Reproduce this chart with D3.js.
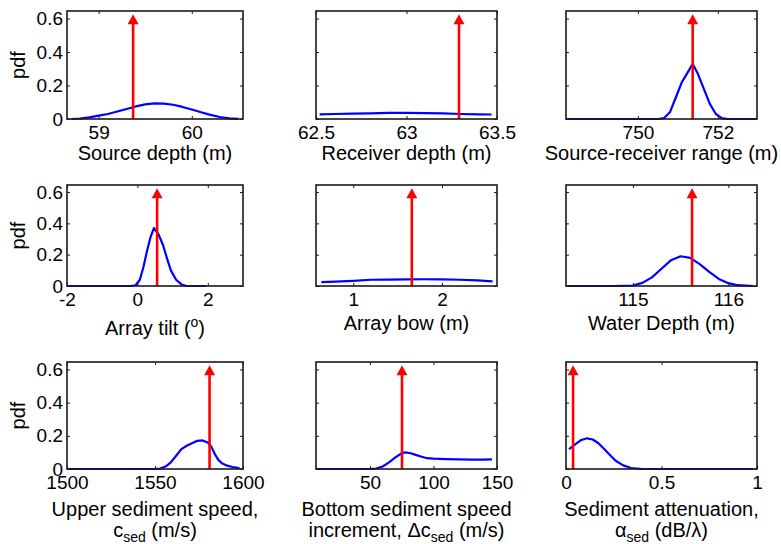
<!DOCTYPE html>
<html>
<head>
<meta charset="utf-8">
<script src="https://cdn.jsdelivr.net/npm/d3@7"></script>
<style>
body { margin: 0; background: #fff; }
svg text { font-family: "Liberation Sans", Arial, Helvetica, sans-serif; font-size: 20px; fill: #000; }
.tick text { font-size: 19px; }
.box { fill: none; stroke: #1a1a1a; stroke-width: 1.6; }
.tick line { stroke: #1a1a1a; stroke-width: 1; }
.pdf-line { fill: none; stroke: #0000ff; stroke-width: 2.2; stroke-linejoin: round; }
.truth { stroke: #ff0000; stroke-width: 2.6; }
.truth-head { fill: #ff0000; }
</style>
</head>
<body>
<svg id="fig" width="781" height="544"></svg>
<script>
// ---- data ----
var pdfTicks = [0, 0.2, 0.4, 0.6];

var srcDepthDomain = [58.66, 60.55], srcDepthTicks = [59, 60], srcDepthTrue = 59.37;
var srcDepthX   = [58.71, 58.8, 58.9, 59.0, 59.1, 59.2, 59.3, 59.4, 59.5, 59.6, 59.7, 59.8, 59.9, 60.0, 60.1, 60.2, 60.3, 60.4, 60.5];
var srcDepthPdf = [0, 0.003, 0.01, 0.02, 0.03, 0.045, 0.06, 0.075, 0.087, 0.093, 0.092, 0.085, 0.072, 0.057, 0.04, 0.025, 0.012, 0.004, 0.001];

var rcvDepthDomain = [62.5, 63.5], rcvDepthTicks = [62.5, 63, 63.5], rcvDepthTrue = 63.29;
var rcvDepthX   = [62.52, 62.6, 62.7, 62.8, 62.9, 63.0, 63.1, 63.2, 63.3, 63.4, 63.47];
var rcvDepthPdf = [0.028, 0.03, 0.032, 0.034, 0.036, 0.036, 0.035, 0.033, 0.03, 0.028, 0.027];

var rangeDomain = [748.2, 752.98], rangeTicks = [750, 752], rangeTrue = 751.37;
var rangeX   = [748.2, 750.5, 750.65, 750.8, 750.95, 751.1, 751.25, 751.37, 751.5, 751.65, 751.8, 751.95, 752.1, 752.25, 752.98];
var rangePdf = [0, 0, 0.005, 0.04, 0.13, 0.22, 0.28, 0.33, 0.27, 0.18, 0.09, 0.03, 0.005, 0, 0];

var tiltDomain = [-2, 3], tiltTicks = [-2, 0, 2], tiltTrue = 0.56;
var tiltX   = [-2, -0.2, -0.05, 0.07, 0.17, 0.27, 0.37, 0.47, 0.6, 0.73, 0.85, 0.95, 1.1, 1.25, 1.4, 1.95];
var tiltPdf = [0, 0, 0.005, 0.04, 0.12, 0.22, 0.31, 0.37, 0.33, 0.26, 0.17, 0.1, 0.04, 0.01, 0, 0];

var bowDomain = [0.58, 2.62], bowTicks = [1, 2], bowTrue = 1.66;
var bowX   = [0.64, 0.8, 1.0, 1.2, 1.4, 1.6, 1.8, 2.0, 2.2, 2.4, 2.57];
var bowPdf = [0.025, 0.028, 0.033, 0.04, 0.041, 0.042, 0.043, 0.042, 0.04, 0.036, 0.03];

var waterDomain = [114.3, 116.3], waterTicks = [115, 116], waterTrue = 115.62;
var waterX   = [114.32, 114.8, 115.0, 115.1, 115.2, 115.3, 115.4, 115.5, 115.6, 115.7, 115.8, 115.9, 116.0, 116.1, 116.26];
var waterPdf = [0, 0, 0.003, 0.02, 0.055, 0.11, 0.165, 0.19, 0.18, 0.14, 0.09, 0.045, 0.018, 0.005, 0];

var csedDomain = [1500, 1600], csedTicks = [1500, 1550, 1600], csedTrue = 1581;
var csedX   = [1500, 1550, 1553, 1556, 1559, 1562, 1565, 1568, 1571, 1574, 1577, 1580, 1582, 1584, 1586, 1588, 1591, 1594, 1598];
var csedPdf = [0, 0, 0.003, 0.015, 0.04, 0.08, 0.12, 0.14, 0.155, 0.17, 0.172, 0.16, 0.135, 0.09, 0.055, 0.035, 0.02, 0.012, 0.005];

var dcsedDomain = [7.5, 150], dcsedTicks = [50, 100, 150], dcsedTrue = 75.2;
var dcsedX   = [7.5, 50, 55, 60, 65, 70, 75, 78, 82, 86, 90, 95, 100, 110, 120, 130, 140, 146];
var dcsedPdf = [0, 0, 0.003, 0.015, 0.04, 0.07, 0.095, 0.1, 0.095, 0.085, 0.075, 0.065, 0.062, 0.06, 0.058, 0.057, 0.056, 0.058];

var attenDomain = [0, 1], attenTicks = [0, 0.5, 1], attenTrue = 0.037;
var attenX   = [0.016, 0.05, 0.08, 0.11, 0.14, 0.17, 0.2, 0.23, 0.26, 0.3, 0.34, 0.4, 0.98];
var attenPdf = [0.12, 0.15, 0.175, 0.185, 0.178, 0.155, 0.12, 0.085, 0.05, 0.022, 0.006, 0, 0];

// ---- layout ----
var colX = [[67, 243], [316, 497], [566, 757]],
    rowY = [[11, 119], [185, 286], [362, 469]],
    labelDy = [41, 44, 47],
    yMax = 0.645,
    arrowTop = 0.625;

var panels = [
  {domain: srcDepthDomain, ticks: srcDepthTicks, truth: srcDepthTrue, xs: srcDepthX, ps: srcDepthPdf, label: [["Source depth (m)"]]},
  {domain: rcvDepthDomain, ticks: rcvDepthTicks, truth: rcvDepthTrue, xs: rcvDepthX, ps: rcvDepthPdf, label: [["Receiver depth (m)"]]},
  {domain: rangeDomain, ticks: rangeTicks, truth: rangeTrue, xs: rangeX, ps: rangePdf, label: [["Source-receiver range (m)"]]},
  {domain: tiltDomain, ticks: tiltTicks, truth: tiltTrue, xs: tiltX, ps: tiltPdf, label: [["Array tilt (", ["o", "sup"], ")"]], shift: 5},
  {domain: bowDomain, ticks: bowTicks, truth: bowTrue, xs: bowX, ps: bowPdf, label: [["Array bow (m)"]]},
  {domain: waterDomain, ticks: waterTicks, truth: waterTrue, xs: waterX, ps: waterPdf, label: [["Water Depth (m)"]]},
  {domain: csedDomain, ticks: csedTicks, truth: csedTrue, xs: csedX, ps: csedPdf,
    label: [["Upper sediment speed,"], ["c", ["sed", "sub"], " (m/s)"]]},
  {domain: dcsedDomain, ticks: dcsedTicks, truth: dcsedTrue, xs: dcsedX, ps: dcsedPdf,
    label: [["Bottom sediment speed"], ["increment, \u0394c", ["sed", "sub"], " (m/s)"]]},
  {domain: attenDomain, ticks: attenTicks, truth: attenTrue, xs: attenX, ps: attenPdf,
    label: [["Sediment attenuation,"], ["\u03b1", ["sed", "sub"], " (dB/\u03bb)"]]}
];

var svg = d3.select("#fig");
var plain = function(d) { return String(d); };

panels.forEach(function(p, i) {
  var col = i % 3, row = Math.floor(i / 3);
  var x = d3.scaleLinear().domain(p.domain).range(colX[col]);
  var y = d3.scaleLinear().domain([0, yMax]).range([rowY[row][1], rowY[row][0]]);
  var g = svg.append("g");
  var x0 = colX[col][0], x1 = colX[col][1], y0 = rowY[row][0], y1 = rowY[row][1];

  // inward ticks on all four sides (matlab style)
  g.append("g").attr("transform", "translate(0," + y1 + ")")
      .call(d3.axisBottom(x).tickValues(p.ticks).tickSizeInner(-3).tickSizeOuter(0).tickPadding(7).tickFormat(plain));
  g.append("g").attr("transform", "translate(0," + y0 + ")")
      .call(d3.axisTop(x).tickValues(p.ticks).tickSizeInner(-3).tickSizeOuter(0).tickFormat(""));
  g.append("g").attr("transform", "translate(" + x0 + ",0)")
      .call(d3.axisLeft(y).tickValues(pdfTicks).tickSizeInner(-3).tickSizeOuter(0).tickPadding(4)
        .tickFormat(col === 0 ? plain : ""));
  g.append("g").attr("transform", "translate(" + x1 + ",0)")
      .call(d3.axisRight(y).tickValues(pdfTicks).tickSizeInner(-3).tickSizeOuter(0).tickFormat(""));
  g.selectAll(".domain").remove();
  g.selectAll(".tick text").attr("font-size", null).attr("font-family", null).attr("fill", "#000");

  g.append("path")
      .datum(d3.zip(p.xs, p.ps))
      .attr("class", "pdf-line")
      .attr("d", d3.line().x(function(d) { return x(d[0]); }).y(function(d) { return y(d[1]); }));

  var tx = x(p.truth), tipY = y(arrowTop);
  g.append("line").attr("class", "truth")
      .attr("x1", tx).attr("x2", tx).attr("y1", y(0)).attr("y2", tipY + 6);
  g.append("path").attr("class", "truth-head")
      .attr("d", "M" + tx + "," + tipY + "L" + (tx + 5.5) + "," + (tipY + 10) + "L" + (tx - 5.5) + "," + (tipY + 10) + "Z");

  g.append("rect").attr("class", "box")
      .attr("x", x0).attr("y", y0).attr("width", x1 - x0).attr("height", y1 - y0);

  // x label, may be two lines with sub/superscripts
  p.label.forEach(function(line, li) {
    var t = g.append("text")
        .attr("x", (x0 + x1) / 2)
        .attr("y", y1 + labelDy[row] + (p.shift || 0) + li * 21)
        .attr("text-anchor", "middle");
    var shift = 0;
    line.forEach(function(part) {
      if (typeof part === "string") {
        t.append("tspan").attr("dy", -shift).text(part);
        shift = 0;
      } else {
        var dy = part[1] === "sub" ? 5 : -8;
        t.append("tspan").attr("dy", dy - shift).attr("font-size", "14px").text(part[0]);
        shift = dy;
      }
    });
  });

  if (col === 0) {
    g.append("text")
        .attr("transform", "translate(25," + ((y0 + y1) / 2) + ")rotate(-90)")
        .attr("text-anchor", "middle")
        .text("pdf");
  }
});
</script>
</body>
</html>
